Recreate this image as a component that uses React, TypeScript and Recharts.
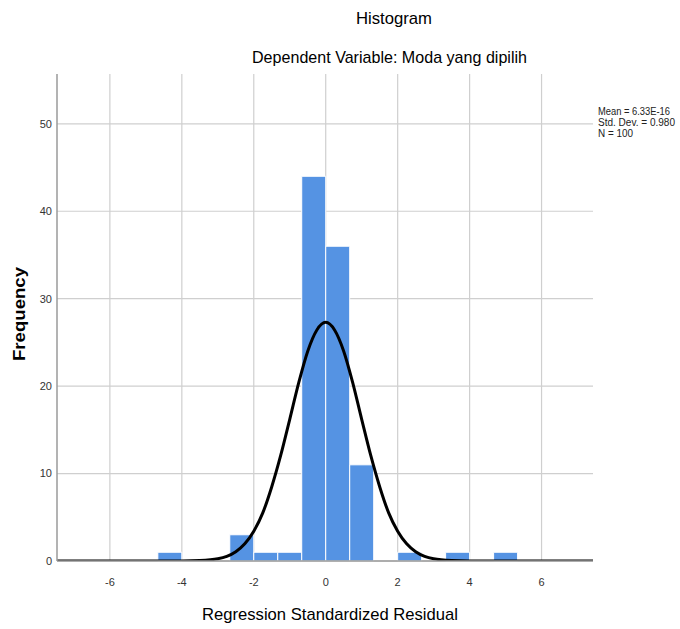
import { CartesianGrid, ComposedChart, Line, ReferenceArea, XAxis, YAxis } from "recharts";

// histogram bins (left edge of each bin, width 2/3) and their counts
const binStarts = [-4.667, -2.667, -2, -1.333, -0.667, 0, 0.667, 2, 3.333, 4.667];
const binCounts = [1, 3, 1, 1, 44, 36, 11, 1, 1, 1];
const binWidth = 0.667;

// normal curve, values
const curveX = [
  -7.5, -4, -3.5, -3, -2.75, -2.5, -2.25, -2, -1.75, -1.5, -1.25, -1, -0.75, -0.5, -0.25, 0,
  0.25, 0.5, 0.75, 1, 1.25, 1.5, 1.75, 2, 2.25, 2.5, 2.75, 3, 3.5, 4, 7.5,
];
const curveY = [
  0, 0, 0.05, 0.25, 0.53, 1.06, 1.96, 3.4, 5.5, 8.5, 12.1, 16.2, 20.4, 24.0, 26.4, 27.3,
  26.4, 24.0, 20.4, 16.2, 12.1, 8.5, 5.5, 3.4, 1.96, 1.06, 0.53, 0.25, 0.05, 0, 0,
];

const xTicks = [-6, -4, -2, 0, 2, 4, 6];
const yTicks = [0, 10, 20, 30, 40, 50];
const xDomain = [-7.47, 7.43];
const yDomain = [0, 55.7];

const legendLines = ["Mean = 6.33E-16", "Std. Dev. = 0.980", "N = 100"];
const legendWidths = [72, 77, 35];

const curveData = curveX.map((x, i) => ({ x, y: curveY[i] }));

const FONT = "'Liberation Sans', Arial, sans-serif";
const tickStyle = { fontSize: 11, fill: "#333", fontFamily: FONT };

// grid only at the tick values (no lines on the top / right edges)
const hGrid = ({ offset }: any) =>
  yTicks.map((t) => offset.top + offset.height * (1 - (t - yDomain[0]) / (yDomain[1] - yDomain[0])));
const vGrid = ({ offset }: any) =>
  xTicks.map((t) => offset.left + (offset.width * (t - xDomain[0])) / (xDomain[1] - xDomain[0]));

export default function App() {
  return (
    <div style={{ position: "absolute", left: 0, top: 0, width: 680, height: 629, background: "#fff" }}>
      <ComposedChart
        width={680}
        height={629}
        data={curveData}
        margin={{ top: 74, right: 87, bottom: 0, left: 0 }}
      >
        <CartesianGrid
          stroke="#cfcfcf"
          strokeWidth={1.2}
          horizontalCoordinatesGenerator={hGrid}
          verticalCoordinatesGenerator={vGrid}
        />
        <XAxis
          type="number"
          dataKey="x"
          domain={xDomain}
          allowDataOverflow
          ticks={xTicks}
          tick={tickStyle}
          tickSize={0}
          tickMargin={17}
          axisLine={{ stroke: "#9a9a9a", strokeWidth: 1.5 }}
          height={68}
        />
        <YAxis
          type="number"
          domain={yDomain}
          allowDataOverflow
          ticks={yTicks}
          tick={tickStyle}
          tickSize={0}
          tickMargin={5}
          axisLine={{ stroke: "#9a9a9a", strokeWidth: 1.5 }}
          width={57}
        />
        {binStarts.map((s, i) => (
          <ReferenceArea
            key={s}
            x1={s}
            x2={s + binWidth}
            y1={0}
            y2={binCounts[i]}
            fill="#5593e3"
            fillOpacity={1}
            stroke="#ffffff"
            strokeWidth={1}
          />
        ))}
        <Line
          type="monotone"
          dataKey="y"
          stroke="#000"
          strokeWidth={3}
          dot={false}
          activeDot={false}
          isAnimationActive={false}
        />
      </ComposedChart>
      <svg
        width={680}
        height={629}
        style={{ position: "absolute", left: 0, top: 0, pointerEvents: "none" }}
      >
        <text x={356} y={24} fontSize={17} fontFamily={FONT} fill="#000" textLength={76} lengthAdjust="spacingAndGlyphs">
          Histogram
        </text>
        <text x={252} y={63} fontSize={17} fontFamily={FONT} fill="#000" textLength={275} lengthAdjust="spacingAndGlyphs">
          Dependent Variable: Moda yang dipilih
        </text>
        <text x={202} y={620} fontSize={17} fontFamily={FONT} fill="#000" textLength={256} lengthAdjust="spacingAndGlyphs">
          Regression Standardized Residual
        </text>
        <text
          x={0}
          y={0}
          transform="translate(25 361) rotate(-90)"
          fontSize={16}
          fontWeight="bold"
          fontFamily={FONT}
          fill="#000"
          textLength={94}
          lengthAdjust="spacingAndGlyphs"
        >
          Frequency
        </text>
        {legendLines.map((t, i) => (
          <text
            key={t}
            x={598}
            y={115 + i * 11}
            fontSize={10}
            fontFamily={FONT}
            fill="#222"
            textLength={legendWidths[i]}
            lengthAdjust="spacingAndGlyphs"
          >
            {t}
          </text>
        ))}
      </svg>
    </div>
  );
}
